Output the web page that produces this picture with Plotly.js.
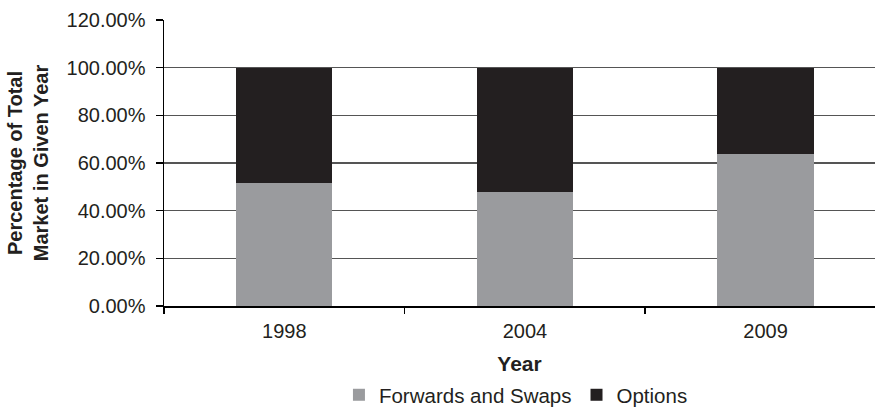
<!DOCTYPE html>
<html>
<head>
<meta charset="utf-8">
<script src="https://cdn.plot.ly/plotly-3.0.1.min.js"></script>
<style>html,body{margin:0;padding:0;background:#fff;}#chart{width:875px;height:408px;}</style>
</head>
<body>
<div id="chart"></div>
<script>
const years = ['1998', '2004', '2009'];
const forwardsSwaps = [51.5, 47.8, 63.7];
const options = [48.5, 52.2, 36.3];
const seriesNames = ['Forwards and Swaps', 'Options'];
const textColor = '#231f20';

const traces = [
  {type: 'bar', name: seriesNames[0], x: years, y: forwardsSwaps,
   marker: {color: '#9a9b9e'}, width: 0.4},
  {type: 'bar', name: seriesNames[1], x: years, y: options,
   marker: {color: '#231f20'}, width: 0.4}
];

const layout = {
  width: 875, height: 408,
  margin: {l: 164, r: 0, t: 20, b: 102},
  barmode: 'stack',
  paper_bgcolor: '#fff', plot_bgcolor: '#fff',
  font: {family: '"Liberation Sans", Arial, sans-serif', size: 20, color: textColor},
  showlegend: true,
  legend: {orientation: 'h', x: 0.495, xanchor: 'center', xref: 'paper',
           y: 0.032, yanchor: 'middle', yref: 'container',
           font: {size: 20.5, color: textColor}, traceorder: 'normal'},
  xaxis: {
    type: 'category', range: [-0.5, 2.455],
    showline: true, linecolor: '#000', linewidth: 1.5,
    ticks: 'outside', tickson: 'boundaries', ticklen: 6, tickcolor: '#000', tickwidth: 1.5,
    ticklabelstandoff: 6,
    showgrid: false, zeroline: false, automargin: false,
    title: {text: '<b>Year</b>', font: {size: 21, color: textColor}, standoff: 20}
  },
  yaxis: {
    range: [0, 120], dtick: 20, tickformat: '.2f', ticksuffix: '%',
    showline: true, linecolor: '#000', linewidth: 1.5,
    ticks: 'outside', ticklen: 7, tickcolor: '#000', tickwidth: 1.5,
    ticklabelstandoff: 6,
    showgrid: true, gridcolor: '#555', gridwidth: 1.2, zeroline: false, automargin: true,
    title: {text: '<b>Percentage of Total<br>Market in Given Year</b>', font: {size: 20, color: textColor}, standoff: 12}
  }
};

Plotly.newPlot('chart', traces, layout, {displayModeBar: false, staticPlot: true});
</script>
</body>
</html>
